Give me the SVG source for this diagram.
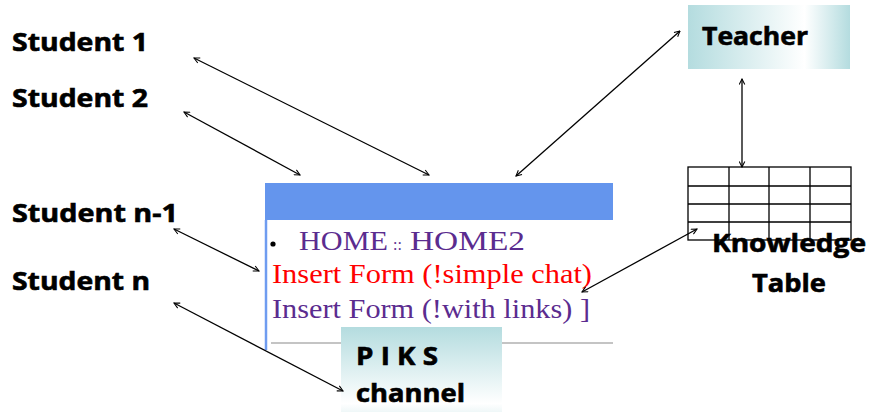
<svg xmlns="http://www.w3.org/2000/svg" width="870" height="412" viewBox="0 0 870 412">
<style>
.lbl{font-family:"Open Sans","Liberation Sans",sans-serif;font-weight:bold;font-size:25px;fill:#000;stroke:#000;stroke-width:0.6}
.tm{font-family:"Liberation Serif","Times New Roman",serif;font-size:27px}
.pur{fill:#5b2c8f}
.red{fill:#ff0000}
.conn{stroke:#000;stroke-width:1.3;fill:none;marker-start:url(#ah);marker-end:url(#ah)}
.grid{stroke:#000;stroke-width:1.3;fill:#fff}
</style>
<defs>
<marker id="ah" viewBox="0 0 10 10" refX="9" refY="5" markerWidth="7" markerHeight="7" markerUnits="userSpaceOnUse" orient="auto-start-reverse">
<path d="M1,1 L9,5 L1,9" fill="none" stroke="#000" stroke-width="1.5"/>
</marker>
<linearGradient id="gT" x1="0" y1="0" x2="1" y2="0">
<stop offset="0" stop-color="#b4dcdf"/>
<stop offset="0.72" stop-color="#ffffff"/>
<stop offset="1" stop-color="#b4dcdf"/>
</linearGradient>
<linearGradient id="gP" x1="0" y1="0" x2="0" y2="1">
<stop offset="0" stop-color="#b4dcdf"/>
<stop offset="0.85" stop-color="#ffffff"/>
<stop offset="1" stop-color="#e6f3f4"/>
</linearGradient>
</defs>

<g id="student1"><text class="lbl" x="12" y="51" textLength="136" lengthAdjust="spacingAndGlyphs">Student 1</text></g>
<g id="student2"><text class="lbl" x="12" y="107" textLength="136" lengthAdjust="spacingAndGlyphs">Student 2</text></g>
<g id="studentn1"><text class="lbl" x="12" y="222" textLength="166" lengthAdjust="spacingAndGlyphs">Student n-1</text></g>
<g id="studentn"><text class="lbl" x="12" y="290" textLength="138" lengthAdjust="spacingAndGlyphs">Student n</text></g>

<g id="page">
<rect x="265" y="183" width="348" height="37" fill="#6495ed"/>
<line x1="266" y1="220" x2="266" y2="350" stroke="#6f9cf0" stroke-width="2.5"/>
<line x1="271" y1="343" x2="613" y2="343" stroke="#c4c4c4" stroke-width="2"/>
<circle cx="273" cy="244" r="2.6" fill="#000"/>
<text class="tm pur" x="299" y="250" textLength="89" lengthAdjust="spacingAndGlyphs">HOME</text>
<text class="pur" x="393" y="250" font-family="Liberation Serif,serif" font-size="16">::</text>
<text class="tm pur" x="410" y="250" textLength="115" lengthAdjust="spacingAndGlyphs">HOME2</text>
<text class="tm red" x="272" y="283" textLength="320" lengthAdjust="spacingAndGlyphs">Insert Form (!simple chat)</text>
<text class="tm pur" x="272" y="318" textLength="318" lengthAdjust="spacingAndGlyphs">Insert Form (!with links) ]</text>
</g>

<g id="teacher">
<rect x="688" y="5" width="162" height="64" fill="url(#gT)"/>
<text class="lbl" x="702" y="45" textLength="106" lengthAdjust="spacingAndGlyphs">Teacher</text>
</g>

<g id="knowledge-table">
<rect class="grid" x="688" y="167" width="163" height="73"/>
<path d="M729,167V240M769,167V240M810,167V240M688,186H851M688,204H851M688,222H851" stroke="#000" stroke-width="1.3" fill="none"/>
<text class="lbl" x="712" y="252" textLength="154" lengthAdjust="spacingAndGlyphs">Knowledge</text>
<text class="lbl" x="752" y="292" textLength="74" lengthAdjust="spacingAndGlyphs">Table</text>
</g>

<g id="piks">
<rect x="341" y="327" width="161" height="90" fill="url(#gP)"/>
<text class="lbl" x="356" y="365" textLength="82" lengthAdjust="spacingAndGlyphs">P I K S</text>
<text class="lbl" x="356" y="402" textLength="109" lengthAdjust="spacingAndGlyphs">channel</text>
</g>

<g id="connectors">
<line class="conn" x1="194" y1="58" x2="429" y2="175"/>
<line class="conn" x1="184" y1="112" x2="300" y2="175"/>
<line class="conn" x1="516" y1="176" x2="680" y2="31"/>
<line class="conn" x1="174" y1="229" x2="259" y2="271"/>
<line class="conn" x1="174" y1="303" x2="343" y2="391"/>
<line class="conn" x1="582" y1="292" x2="697" y2="229"/>
<line class="conn" x1="742" y1="79" x2="742" y2="167"/>
</g>
</svg>
